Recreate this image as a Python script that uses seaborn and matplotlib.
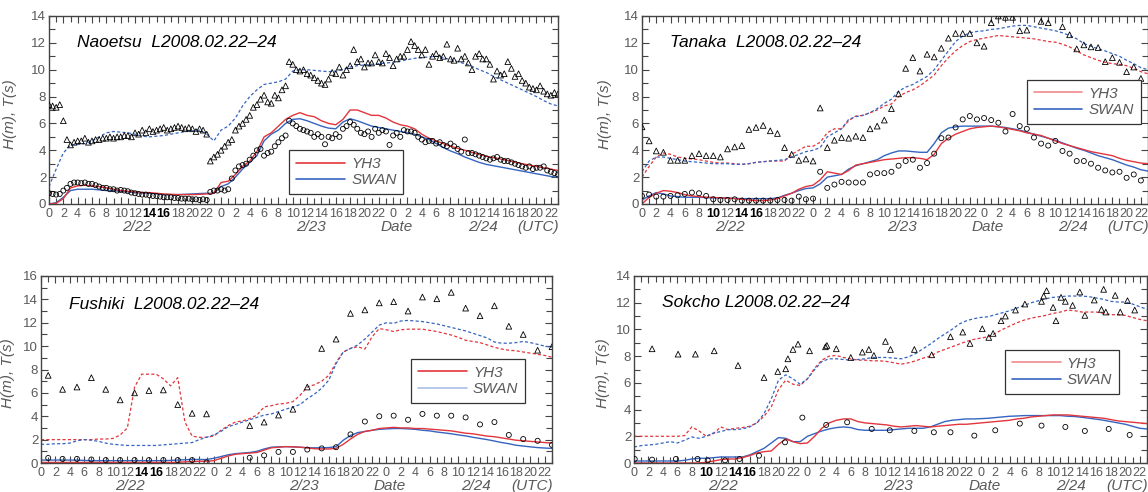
import numpy as np
import matplotlib
matplotlib.use("Agg")
import matplotlib.pyplot as plt
from matplotlib.ticker import MultipleLocator
from matplotlib.lines import Line2D
import seaborn as sns

sns.set_style("ticks")
plt.rcParams['font.family'] = ['Liberation Sans', 'DejaVu Sans']

# ---------------- data ----------------
hours = np.arange(72)                      # model output, hourly (0 = 2/22 00UTC)

# Panel 1: Naoetsu (observations every 30 min)
naoetsu_obs_t = np.arange(0, 71.5, 0.5)
naoetsu_T_obs = [7.4, 7.3, 7.2, 7.4, 6.2, 4.8, 4.4, 4.6, 4.7, 4.7,
                 4.9, 4.6, 4.7, 4.8, 4.8, 4.9, 4.9, 5.0, 4.9, 5.0,
                 5.0, 5.1, 5.1, 5.0, 5.3, 5.2, 5.5, 5.3, 5.6, 5.4,
                 5.5, 5.6, 5.7, 5.5, 5.6, 5.7, 5.8, 5.7, 5.6, 5.7,
                 5.6, 5.4, 5.6, 5.5, 5.2, 3.2, 3.5, 3.7, 4.0, 4.3,
                 4.6, 4.8, 5.5, 5.8, 6.0, 6.3, 6.6, 7.2, 7.4, 7.8,
                 8.1, 7.6, 7.5, 8.1, 7.9, 8.5, 8.8, 10.6, 10.4, 10.0,
                 9.9, 10.0, 9.7, 9.6, 9.4, 9.2, 9.0, 8.9, 9.3, 9.8,
                 9.7, 10.2, 9.6, 10.0, 10.3, 11.5, 10.6, 10.8, 10.2, 10.5,
                 10.5, 11.1, 10.6, 10.5, 11.2, 10.9, 10.3, 10.8, 11.0, 11.0,
                 11.5, 12.1, 11.8, 11.5, 11.1, 11.5, 10.4, 11.0, 11.2, 10.9,
                 11.0, 11.9, 10.8, 10.7, 11.6, 10.8, 11.0, 10.5, 10.0, 11.0,
                 11.2, 10.8, 10.8, 10.4, 9.3, 9.9, 9.6, 9.7, 10.6, 10.1,
                 9.5, 9.7, 9.2, 9.0, 8.7, 8.6, 8.5, 8.8, 8.4, 8.2,
                 8.1, 8.3, 8.2]
naoetsu_H_obs = [0.8, 0.75, 0.7, 0.75, 1.0, 1.2, 1.5, 1.6, 1.6, 1.55,
                 1.6, 1.5, 1.5, 1.4, 1.3, 1.2, 1.2, 1.1, 1.1, 1.0,
                 1.05, 1.0, 0.95, 0.85, 0.8, 0.75, 0.7, 0.7, 0.65, 0.6,
                 0.6, 0.55, 0.5, 0.5, 0.5, 0.45, 0.45, 0.4, 0.4, 0.4,
                 0.35, 0.35, 0.3, 0.35, 0.3, 0.9, 1.0, 1.0, 1.1, 1.0,
                 1.1, 1.9, 2.5, 2.8, 2.9, 3.0, 3.3, 3.6, 4.0, 4.1,
                 3.6, 3.8, 3.9, 4.3, 4.6, 4.9, 5.1, 6.2, 6.0, 5.8,
                 5.6, 5.5, 5.4, 5.3, 5.0, 5.2, 5.0, 4.45, 5.0, 4.9,
                 5.2, 5.0, 5.6, 5.8, 6.1, 5.9, 5.6, 5.3, 5.2, 5.4,
                 5.0, 5.6, 5.3, 5.5, 5.4, 4.4, 5.1, 5.3, 5.0, 5.5,
                 5.4, 5.4, 5.3, 5.0, 4.8, 4.6, 4.7, 4.7, 4.5, 4.6,
                 4.4, 4.3, 4.5, 4.3, 4.1, 3.9, 4.8, 3.8, 3.8, 3.7,
                 3.6, 3.5, 3.4, 3.3, 3.4, 3.5, 3.3, 3.2, 3.2, 3.1,
                 3.0, 2.9, 2.8, 2.7, 2.8, 2.6, 2.7, 2.7, 2.8, 2.5,
                 2.4, 2.3, 2.2]
naoetsu_H_yh3 = [0.0, 0.05, 0.4, 1.2, 1.35, 1.4, 1.35, 1.3, 1.2, 1.1,
                 1.0, 0.95, 0.9, 0.85, 0.85, 0.8, 0.75, 0.72, 0.7, 0.7,
                 0.7, 0.72, 0.75, 0.8, 1.6, 1.7, 2.2, 2.8, 3.2, 3.9,
                 5.0, 5.3, 5.8, 6.3, 6.6, 6.8, 6.6, 6.5, 6.2, 6.0,
                 5.9, 6.3, 7.0, 7.0, 6.8, 6.6, 6.6, 6.4, 6.1, 5.9,
                 5.8, 5.6, 5.2, 4.9, 4.7, 4.5, 4.3, 4.15, 4.0, 3.85,
                 3.7, 3.55, 3.45, 3.35, 3.25, 3.1, 3.0, 2.9, 2.8, 2.7,
                 2.6, 2.5]
naoetsu_H_swan = [0.0, 0.1, 0.5, 1.0, 1.1, 1.1, 1.1, 1.05, 1.0, 0.98,
                  0.95, 0.9, 0.85, 0.82, 0.8, 0.75, 0.7, 0.7, 0.7, 0.72,
                  0.75, 0.78, 0.8, 0.8, 1.3, 1.5, 2.0, 2.6, 3.1, 3.6,
                  4.7, 5.2, 5.5, 6.0, 6.3, 6.35, 6.2, 6.0, 5.8, 5.65,
                  5.6, 6.1, 6.35, 6.2, 6.0, 5.8, 5.7, 5.6, 5.5, 5.4,
                  5.3, 5.2, 5.0, 4.8, 4.5, 4.2, 3.95, 3.75, 3.5, 3.3,
                  3.1, 2.95, 2.85, 2.75, 2.65, 2.55, 2.45, 2.35, 2.25, 2.15,
                  2.05, 2.0]
naoetsu_T_swan = [1.3, 2.6, 3.8, 4.4, 4.45, 4.5, 4.7, 5.0, 5.3, 5.4,
                  5.35, 5.3, 5.2, 5.05, 5.0, 5.05, 5.1, 5.2, 5.3, 5.4,
                  5.45, 5.5, 5.2, 4.7, 5.5, 5.8, 6.4, 7.3, 8.0, 8.5,
                  8.9, 9.0, 9.1, 9.3, 9.9, 10.0, 10.0, 9.95, 9.9, 9.85,
                  9.9, 10.0, 10.2, 10.3, 10.35, 10.4, 10.45, 10.5, 10.55, 10.65,
                  10.75, 10.85, 10.9, 10.95, 11.0, 10.9, 10.75, 10.6, 10.45, 10.25,
                  10.0, 9.8, 9.5, 9.25, 9.0, 8.75, 8.5, 8.25, 8.0, 7.7,
                  7.45, 7.3]

# Panel 2: Tanaka (hourly observations)
tanaka_obs_t = np.arange(0, 71)
tanaka_T_obs = [5.75, 4.7, 3.95, 3.85, 3.25, 3.25, 3.25, 3.6, 3.75, 3.6,
                3.6, 3.5, 4.1, 4.25, 4.35, 5.55, 5.7, 5.85, 5.45, 5.25,
                4.2, 3.7, 3.25, 3.35, 3.2, 7.15, 4.2, 4.75, 4.95, 4.9,
                5.05, 4.95, 5.6, 5.8, 6.25, 7.1, 8.2, 10.1, 10.9, 9.9,
                11.15, 10.95, 11.6, 12.35, 12.7, 12.7, 12.7, 12.0, 11.75, 13.5,
                14.0, 13.9, 13.9, 12.9, 12.95, np.nan, 13.6, 13.5, np.nan, 13.2,
                12.6, 11.55, 11.85, 11.7, 11.65, 10.6, 10.9, 10.55, 9.85, 10.2,
                9.35]
tanaka_H_obs = [0.6, 0.7, 0.55, 0.55, 0.6, 0.65, 0.75, 0.85, 0.8, 0.6,
                0.35, 0.3, 0.3, 0.35, 0.25, 0.25, 0.25, 0.25, 0.25, 0.3,
                0.3, 0.25, 0.55, 0.35, 0.4, 2.4, 1.2, 1.45, 1.65, 1.6,
                1.6, 1.6, 2.2, 2.3, 2.3, 2.4, 2.85, 3.2, 3.3, 2.7,
                3.05, 3.75, 4.9, 4.95, 5.7, 6.3, 6.55, 6.3, 6.4, 6.25,
                6.05, 5.4, 6.7, 5.8, 5.6, 4.95, 4.5, 4.35, 4.7, 3.95,
                3.75, 3.2, 3.2, 3.0, 2.7, 2.5, 2.35, 2.4, 1.95, 2.2,
                1.75]
tanaka_H_yh3 = [0.0, 0.5, 0.8, 1.0, 0.95, 0.85, 0.7, 0.6, 0.55, 0.5,
                0.5, 0.45, 0.45, 0.4, 0.35, 0.3, 0.25, 0.25, 0.3, 0.4,
                0.6, 0.8, 1.1, 1.3, 1.4, 1.8, 2.4, 2.3, 2.2, 2.5,
                2.9, 3.0, 3.1, 3.2, 3.3, 3.35, 3.4, 3.45, 3.45, 3.4,
                3.3, 3.7, 4.5, 4.9, 5.2, 5.4, 5.6, 5.7, 5.75, 5.8,
                5.75, 5.65, 5.55, 5.45, 5.3, 5.2, 5.1, 4.9, 4.7, 4.5,
                4.35, 4.2, 4.05, 3.9, 3.8, 3.7, 3.6, 3.4, 3.25, 3.15,
                3.05, 3.0]
tanaka_H_swan = [0.3, 0.6, 0.85, 0.75, 0.6, 0.55, 0.5, 0.5, 0.5, 0.48,
                 0.45, 0.45, 0.45, 0.42, 0.4, 0.4, 0.4, 0.4, 0.4, 0.45,
                 0.65, 0.8, 1.0, 1.15, 1.2, 1.5, 2.0, 2.1, 2.2, 2.6,
                 2.85, 3.0, 3.15, 3.3, 3.6, 3.8, 3.95, 3.95, 3.9, 3.85,
                 3.85, 4.5, 5.3, 5.65, 5.75, 5.8, 5.8, 5.8, 5.8, 5.8,
                 5.75, 5.7, 5.6, 5.5, 5.35, 5.2, 5.05, 4.9, 4.75, 4.55,
                 4.35, 4.15, 4.0, 3.8, 3.6, 3.45, 3.3, 3.1, 2.9, 2.75,
                 2.55, 2.45]
tanaka_T_yh3 = [2.0, 2.8, 3.5, 3.8, 3.7, 3.5, 3.4, 3.35, 3.3, 3.2,
                3.1, 3.05, 3.05, 3.0, 2.95, 3.0, 3.1, 3.15, 3.2, 3.2,
                3.2, 3.7, 4.0, 4.3, 4.3, 4.6, 5.3, 5.6, 5.6, 6.2,
                6.55, 6.6, 6.8, 7.0, 7.3, 7.45, 8.0, 8.3, 8.5, 8.8,
                9.2, 9.6, 10.3, 10.9, 11.4, 11.8, 12.1, 12.25, 12.35, 12.45,
                12.55, 12.5, 12.45, 12.4, 12.35, 12.3, 12.2, 12.1, 12.05, 11.9,
                11.7, 11.4, 11.1, 10.9, 10.7, 10.55, 10.45, 10.4, 10.3, 10.1,
                9.85, 9.7]
tanaka_T_swan = [2.4, 3.2, 3.5, 3.5, 3.4, 3.3, 3.2, 3.15, 3.1, 3.05,
                 3.0, 3.0, 3.0, 2.95, 2.95, 3.0, 3.1, 3.15, 3.2, 3.25,
                 3.3, 3.5, 3.7, 3.9, 4.0, 4.2, 5.0, 5.3, 5.6, 6.3,
                 6.5, 6.6, 6.8, 7.1, 7.5, 7.8, 8.4, 8.7, 8.9, 9.2,
                 9.5, 10.0, 10.7, 11.4, 12.1, 12.5, 12.75, 12.85, 12.9, 13.0,
                 13.05, 13.15, 13.25, 13.3, 13.3, 13.2, 13.1, 13.0, 12.9, 12.75,
                 12.55, 12.3, 11.95, 11.75, 11.55, 11.4, 11.2, 11.0, 10.7, 10.45,
                 10.15, 10.0]

# Panel 3: Fushiki (2-hourly observations)
fushiki_obs_t = np.arange(1, 72, 2)
fushiki_T_obs = [7.5, 6.3, 6.5, 7.3, 6.3, 5.4, 6.0, 6.2, 6.25, 5.0,
                 4.25, 4.2, np.nan, np.nan, 3.2, 3.5, 4.1, 4.6, 6.5, 9.8,
                 10.6, 12.8, 13.1, 13.7, 13.8, 13.0, 14.2, 14.05, 14.6, 13.25,
                 12.6, 13.45, 11.7, 11.0, 9.65, 9.95]
fushiki_H_obs = [0.43, 0.35, 0.35, 0.3, 0.25, 0.25, 0.25, 0.25, 0.25, 0.25,
                 0.25, 0.05, np.nan, np.nan, 0.45, 0.65, 0.95, 0.95, 1.15, 1.25,
                 1.35, 2.45, 3.55, 4.0, 4.05, 3.7, 4.2, 4.05, 4.05, 3.9,
                 3.3, 3.5, 2.4, 2.05, 1.9, 1.55]
fushiki_H_yh3 = [0.05, 0.05, 0.05, 0.05, 0.05, 0.05, 0.05, 0.05, 0.05, 0.05,
                 0.05, 0.05, 0.05, 0.05, 0.05, 0.05, 0.05, 0.05, 0.05, 0.05,
                 0.1, 0.12, 0.15, 0.15, 0.2, 0.4, 0.6, 0.75, 0.8, 0.85,
                 0.9, 1.1, 1.3, 1.35, 1.4, 1.38, 1.35, 1.3, 1.22, 1.2,
                 1.2, 1.25, 1.6, 2.05, 2.45, 2.7, 2.8, 2.95, 3.0, 3.05,
                 3.0, 3.0, 2.95, 2.95, 2.9, 2.85, 2.8, 2.75, 2.65, 2.55,
                 2.5, 2.4, 2.3, 2.25, 2.15, 2.05, 1.95, 1.9, 1.85, 1.8,
                 1.75, 1.7]
fushiki_H_swan = [0.25, 0.25, 0.25, 0.25, 0.25, 0.25, 0.22, 0.2, 0.2, 0.2,
                  0.2, 0.2, 0.2, 0.2, 0.2, 0.2, 0.2, 0.2, 0.22, 0.25,
                  0.28, 0.3, 0.3, 0.3, 0.4, 0.55, 0.7, 0.8, 0.85, 0.9,
                  1.0, 1.2, 1.35, 1.38, 1.4, 1.38, 1.35, 1.3, 1.3, 1.3,
                  1.32, 1.4, 1.95, 2.35, 2.6, 2.7, 2.8, 2.88, 2.92, 2.95,
                  2.95, 2.92, 2.88, 2.8, 2.75, 2.65, 2.58, 2.5, 2.4, 2.32,
                  2.2, 2.1, 2.0, 1.88, 1.75, 1.65, 1.52, 1.45, 1.38, 1.32,
                  1.28, 1.25]
fushiki_T_yh3 = [2.0, 2.0, 2.0, 2.0, 2.0, 2.0, 2.0, 2.0, 2.05, 2.05,
                 2.1, 2.4, 3.0, 6.5, 7.6, 7.6, 7.6, 7.2, 6.6, 7.3,
                 3.5, 2.3, 2.2, 2.2, 2.3, 2.8, 3.2, 3.5, 3.6, 3.8,
                 4.1, 4.8, 4.9, 5.05, 5.1, 5.25, 5.8, 6.5, 6.7, 7.0,
                 7.5, 8.6, 9.5, 9.8, 9.95, 9.75, 10.8, 11.5, 11.4, 11.25,
                 11.4, 11.45, 11.45, 11.45, 11.35, 11.25, 11.1, 10.95, 10.75, 10.5,
                 10.4, 10.3, 10.1, 9.9, 9.75, 9.65, 9.6, 9.5, 9.4, 9.3,
                 9.2, 9.05]
fushiki_T_swan = [1.6, 1.6, 1.65, 1.65, 1.7, 1.9, 2.0, 1.95, 1.85, 1.7,
                  1.6, 1.55, 1.5, 1.5, 1.5, 1.5, 1.5, 1.55, 1.6, 1.65,
                  1.7, 1.75, 2.0, 2.2, 2.4, 2.7, 3.1, 3.3, 3.5, 3.7,
                  3.9, 4.1, 4.2, 4.4, 4.6, 4.8, 5.0, 5.5, 5.9, 6.4,
                  7.1, 8.5, 9.5, 9.8, 10.1, 10.6, 11.2, 11.8, 12.0, 11.95,
                  12.15, 12.2, 12.15, 12.1, 12.0, 11.9, 11.75, 11.6, 11.45, 11.3,
                  11.1, 10.9, 10.7, 10.35, 10.25, 10.25, 10.3, 10.4, 10.3, 10.15,
                  10.0, 9.9]

# Panel 4: Sokcho (irregular observations)
sokcho_T_t = [2.5, 6.1, 8.5, 11.1, 14.4, 18.0, 19.9, 21.0, 21.3, 22.0,
              22.7, 24.3, 26.5, 26.7, 28.0, 30.0, 31.6, 32.5, 33.2, 34.8,
              35.5, 38.8, 41.2, 43.8, 45.5, 46.5, 48.2, 49.1, 49.7, 50.8,
              51.4, 52.8, 54.1, 56.4, 56.7, 57.1, 58.0, 58.4, 59.1, 59.7,
              60.7, 61.7, 62.4, 63.7, 64.7, 65.0, 65.3, 66.6, 67.3, 68.3,
              69.3]
sokcho_T_obs = [8.55, 8.15, 8.15, 8.4, 7.3, 6.4, 6.85, 7.05, 7.8, 8.5,
                8.9, 8.4, 8.7, 8.8, 8.55, 7.9, 8.3, 8.5, 8.05, 9.1,
                8.5, 8.5, 8.1, 9.45, 9.8, 8.95, 10.05, 9.4, 9.7, 10.65,
                11.0, 11.45, 11.9, 12.1, 12.5, 12.9, 11.65, 10.65, 12.4, 12.1,
                11.8, 12.8, 11.05, 12.2, 11.5, 13.0, 11.3, 12.55, 11.3, 12.15,
                11.45]
sokcho_H_t = [0.1, 2.5, 5.8, 8.8, 10.2, 12.6, 14.6, 17.3, 20.9, 23.3,
              26.6, 29.5, 32.9, 35.4, 38.8, 41.5, 43.8, 47.1, 50.0, 53.4,
              56.4, 59.7, 62.4, 65.7, 68.6]
sokcho_H_obs = [0.3, 0.25, 0.3, 0.3, 0.2, 0.2, 0.3, 0.55, 1.55, 3.4,
                2.85, 3.05, 2.55, 2.45, 2.4, 2.3, 2.3, 2.05, 2.45, 2.95,
                2.8, 2.7, 2.4, 2.55, 2.1]
sokcho_H_yh3 = [0.0, 0.0, 0.0, 0.0, 0.0, 0.0, 0.0, 0.0, 0.0, 0.0,
                0.05, 0.15, 0.25, 0.3, 0.3, 0.4, 0.55, 0.75, 0.85, 0.9,
                1.4, 1.8, 1.6, 1.45, 1.5, 2.0, 2.6, 3.0, 3.2, 3.3,
                3.3, 3.1, 3.0, 2.95, 2.9, 2.85, 2.75, 2.7, 2.75, 2.8,
                2.75, 2.7, 2.75, 2.8, 2.85, 2.9, 2.9, 2.95, 3.0, 3.05,
                3.1, 3.15, 3.2, 3.3, 3.35, 3.45, 3.5, 3.55, 3.6, 3.6,
                3.6, 3.55, 3.5, 3.45, 3.4, 3.35, 3.25, 3.15, 3.1, 3.05,
                3.0, 2.95]
sokcho_H_swan = [0.15, 0.15, 0.15, 0.15, 0.15, 0.15, 0.15, 0.2, 0.3, 0.35,
                 0.35, 0.4, 0.45, 0.45, 0.45, 0.45, 0.6, 0.85, 1.1, 1.5,
                 1.9, 1.85, 1.6, 1.6, 2.0, 2.2, 2.4, 2.55, 2.65, 2.7,
                 2.65, 2.5, 2.45, 2.45, 2.45, 2.45, 2.5, 2.55, 2.6, 2.6,
                 2.6, 2.7, 2.9, 3.1, 3.2, 3.25, 3.3, 3.3, 3.32, 3.35,
                 3.4, 3.45, 3.5, 3.52, 3.55, 3.55, 3.55, 3.55, 3.55, 3.55,
                 3.5, 3.48, 3.42, 3.35, 3.28, 3.2, 3.1, 3.0, 2.9, 2.75,
                 2.6, 2.55]
sokcho_T_yh3 = [2.0, 2.0, 2.0, 2.0, 2.0, 2.0, 2.0, 2.05, 2.7, 2.4,
                2.0, 2.2, 2.7, 2.5, 2.6, 2.65, 2.75, 3.0, 3.5, 4.2,
                5.5, 6.2, 5.9, 5.8, 6.3, 7.1, 7.7, 8.0, 8.05, 7.9,
                7.8, 7.7, 7.7, 7.65, 7.65, 7.6, 7.5, 7.4, 7.5, 7.65,
                7.85, 8.0, 8.3, 8.5, 8.7, 8.9, 9.1, 9.25, 9.35, 9.45,
                9.7, 10.0, 10.25, 10.5, 10.7, 10.85, 10.95, 11.05, 11.2, 11.3,
                11.45, 11.4, 11.3, 11.3, 11.3, 11.2, 11.1, 11.1, 11.05, 10.9,
                10.75, 10.65]
sokcho_T_swan = [1.2, 1.3, 1.35, 1.4, 1.5, 1.6, 1.5, 1.7, 1.95, 1.85,
                 2.0, 2.25, 2.35, 2.5, 2.5, 2.55, 2.7, 3.0, 3.7, 4.8,
                 6.2, 6.6, 6.3, 5.9, 6.3, 7.0, 7.6, 7.8, 7.8, 7.75,
                 7.7, 7.75, 7.8, 7.9, 7.9, 7.9, 7.85, 7.8, 7.95, 8.2,
                 8.55, 8.9, 9.3, 9.65, 10.0, 10.4, 10.65, 10.8, 10.9, 10.95,
                 11.1, 11.25, 11.4, 11.6, 11.8, 12.0, 12.15, 12.3, 12.4, 12.45,
                 12.5, 12.5, 12.5, 12.45, 12.35, 12.25, 12.1, 12.05, 12.05, 11.9,
                 11.7, 11.5]

titles = ["Naoetsu  L2008.02.22\u201324", "Tanaka  L2008.02.22\u201324",
          "Fushiki  L2008.02.22\u201324", "Sokcho L2008.02.22\u201324"]
date_labels = ["2/22", "2/23", "Date", "2/24", "(UTC)"]
date_label_pos = [12.3, 36.5, 48.5, 60.5, 68.2]
legend_labels = ["YH3", "SWAN"]

# ---------------- styling ----------------
RED = "#e2363c"
BLUE = "#3565c0"
GRAY = "#5a5a5a"
W, H = 1148, 492

fig = plt.figure(figsize=(W / 100, H / 100), dpi=100)

def box(l, r, t, b):
    return [l / W, 1 - b / H, (r - l) / W, (b - t) / H]

panels = [
    dict(rect=box(49, 558, 16, 204), ymax=14, title=titles[0], title_y=12.0,
         obs_t=naoetsu_obs_t, T_obs=naoetsu_T_obs, H_obs=naoetsu_H_obs,
         Hy=naoetsu_H_yh3, Hs=naoetsu_H_swan, Ty=None, Ts=naoetsu_T_swan,
         obs_tH=naoetsu_obs_t, bold=[14, 16], ylab_x=-0.063,
         leg=(0.584, 0.170), legcol=(RED, BLUE)),
    dict(rect=box(642, 1148, 16, 204), ymax=14, title=titles[1], title_y=12.0,
         obs_t=tanaka_obs_t, T_obs=tanaka_T_obs, H_obs=tanaka_H_obs,
         Hy=tanaka_H_yh3, Hs=tanaka_H_swan, Ty=tanaka_T_yh3, Ts=tanaka_T_swan,
         obs_tH=tanaka_obs_t, bold=[10, 14, 16], ylab_x=-0.06,
         leg=(0.873, 0.543), legcol=("#f08a8e", BLUE)),
    dict(rect=box(41, 552, 276, 463), ymax=16, title=titles[2], title_y=13.6,
         obs_t=fushiki_obs_t, T_obs=fushiki_T_obs, H_obs=fushiki_H_obs,
         Hy=fushiki_H_yh3, Hs=fushiki_H_swan, Ty=fushiki_T_yh3, Ts=fushiki_T_swan,
         obs_tH=fushiki_obs_t, bold=[14, 16], ylab_x=-0.051,
         leg=(0.836, 0.44), legcol=(RED, "#a9c0e6")),
    dict(rect=box(634, 1147, 276, 463), ymax=14, title=titles[3], title_y=12.0,
         obs_t=sokcho_T_t, T_obs=sokcho_T_obs, H_obs=sokcho_H_obs,
         Hy=sokcho_H_yh3, Hs=sokcho_H_swan, Ty=sokcho_T_yh3, Ts=sokcho_T_swan,
         obs_tH=sokcho_H_t, bold=[10, 14, 16], ylab_x=-0.047,
         leg=(0.834, 0.487), legcol=("#f08a8e", BLUE)),
]

dash = (0, (2.5, 1.8))
for p in panels:
    ax = fig.add_axes(p["rect"])
    # model wave period (dashed)
    if p["Ty"] is not None:
        sns.lineplot(x=hours, y=p["Ty"], ax=ax, color=RED, lw=0.9,
                     linestyle=dash, legend=False)
    sns.lineplot(x=hours, y=p["Ts"], ax=ax, color=BLUE, lw=0.9,
                 linestyle=dash, legend=False)
    # model wave height (solid)
    sns.lineplot(x=hours, y=p["Hs"], ax=ax, color=BLUE, lw=1.0, legend=False)
    sns.lineplot(x=hours, y=p["Hy"], ax=ax, color=RED, lw=1.0, legend=False)
    # observations
    sns.scatterplot(x=p["obs_t"], y=p["T_obs"], ax=ax, marker="^", s=17,
                    fc="none", ec="black", linewidth=0.6, legend=False, zorder=5)
    sns.scatterplot(x=p["obs_tH"], y=p["H_obs"], ax=ax, marker="o", s=13,
                    fc="none", ec="black", linewidth=0.6, legend=False, zorder=5)

    ax.set_xlim(0, 71)
    ax.set_ylim(0, p["ymax"])
    ax.set_xticks(np.arange(0, 71, 2))
    ax.set_xticklabels([str(h % 24) for h in range(0, 71, 2)])
    ax.xaxis.set_minor_locator(MultipleLocator(1))
    ax.set_yticks(np.arange(0, p["ymax"] + 1, 2))
    ax.yaxis.set_minor_locator(MultipleLocator(1))
    ax.tick_params(which="both", direction="in", top=True, right=True,
                   colors="#444444", labelcolor=GRAY, labelsize=9.5, pad=2)
    ax.tick_params(which="major", length=5, width=0.8)
    ax.tick_params(which="minor", length=4, width=0.8)
    ax.tick_params(axis="x", labelsize=9, pad=3)
    for lbl, h in zip(ax.get_xticklabels(), range(0, 71, 2)):
        if h < 24 and h in p["bold"]:
            lbl.set_fontweight("bold")
            lbl.set_color("black")
    for sp in ax.spines.values():
        sp.set_color("#444444")
        sp.set_linewidth(1.0)
    ax.set_xlabel("")
    ax.set_ylabel("H(m), T(s)", fontsize=11, style="italic", color=GRAY)
    ax.yaxis.set_label_coords(p["ylab_x"], 0.48)

    ax.text(3.9, p["title_y"], p["title"], fontsize=12.5, style="italic",
            color="black", va="center", ha="left")
    trans = ax.get_xaxis_transform()
    for lab, xp in zip(date_labels, date_label_pos):
        ax.text(xp, -0.125, lab, transform=trans, ha="center", va="center",
                fontsize=11, style="italic", color=GRAY)

    handles = [Line2D([], [], color=p["legcol"][0], lw=1.2),
               Line2D([], [], color=p["legcol"][1], lw=1.2)]
    leg = ax.legend(handles, legend_labels, loc="center",
                    bbox_to_anchor=p["leg"], bbox_transform=ax.transAxes,
                    fontsize=11, handlelength=3.2, handletextpad=0.4,
                    labelspacing=0.15, borderpad=0.45, fancybox=False,
                    frameon=True, framealpha=1.0, edgecolor="#333333",
                    facecolor="white")
    leg.get_frame().set_linewidth(0.9)
    for t in leg.get_texts():
        t.set_style("italic")
        t.set_color(GRAY)

fig.savefig("out.png", dpi=100)
